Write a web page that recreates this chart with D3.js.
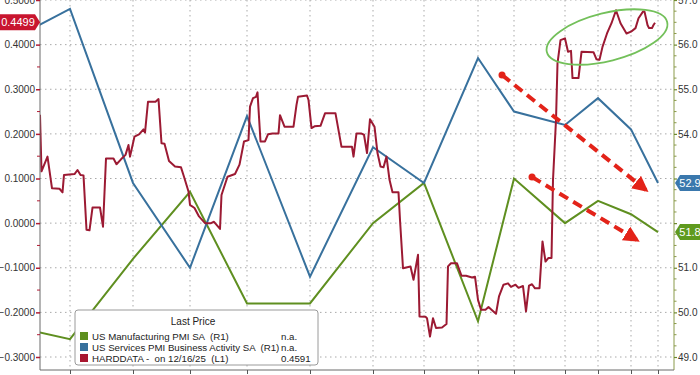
<!DOCTYPE html>
<html><head><meta charset="utf-8">
<script src="https://cdn.jsdelivr.net/npm/d3@7"></script>
<style>
html,body{margin:0;padding:0;background:#fff;overflow:hidden;}
svg{display:block;font-family:"Liberation Sans",Arial,sans-serif;}
</style></head>
<body>
<svg id="c" width="700" height="375"></svg>
<script>
// ---- data ----
const pmiMonths = ["Nov 2024","Dec 2024","Jan 2025","Feb 2025","Mar 2025","Apr 2025","May 2025","Jun 2025","Jul 2025","Aug 2025","Sep 2025","Oct 2025","Nov 2025","Dec 2025"];
// observation number (HARDDATA trading-day count) at which each month's PMI is plotted
const pmiObs = [-10, 10, 31, 50, 69, 90, 111, 128, 146, 158, 175, 186, 197, 206];
const mfgPMI = [49.7, 49.4, 51.2, 52.7, 50.2, 50.2, 52.0, 52.9, 49.8, 53.0, 52.0, 52.5, 52.2, 51.8];
const svcPMI = [56.1, 56.8, 52.9, 51.0, 54.4, 50.8, 53.7, 52.9, 55.7, 54.5, 54.2, 54.8, 54.1, 52.9];
const axisMonths = ["Jan","Feb","Mar","Apr","May","Jun","Jul","Aug","Sep","Oct","Nov","Dec"];
const hardObs = [0,0.5,2.5,4,6.5,7.5,8,11.5,12.5,13.5,14.5,15.5,16.5,17.5,20,21,22,24.5,25.5,27,28.5,29.5,30,31.5,33,34.5,35,36,38.5,39.5,40.5,41.5,43,45,47,48,49.5,50,51.5,53,55,57,58,60,60.5,62.5,65,66.5,68,69.5,70,71,72,72.5,73.5,75,76,77.5,79.5,80,81.5,84.5,85.5,86,89,89.5,90.5,91.5,93.5,95,98.5,100.5,104,104.5,105.5,107,108,109,110,111.5,112.5,113.5,114.5,115.5,116.5,117.5,119.5,120,121,123.5,124.5,126,126.5,128.5,129,130,131,132,134,135.5,136,137,139,140.5,142,144,145,146,147,148.5,149.5,150.5,152,153,154.5,156,157,158.5,159.5,161,162,163,164,165,166.5,167.5,168.5,169.5,170.5,171,172,172.5,173.5,175,176,177,177.5,179.5,180.5,184.5,185.5,186.5,187.5,189,190.5,192,193.5,195.5,197,198.5,199.5,201,201.5,202.5,203,204,204.5,205];
const hardVals = [0.243,0.116,0.149,0.078,0.077,0.069,0.108,0.110,0.119,0.108,0.107,-0.015,-0.016,0.035,0.035,-0.008,0.145,0.145,0.132,0.143,0.153,0.175,0.149,0.194,0.199,0.210,0.203,0.272,0.272,0.278,0.179,0.178,0.139,0.127,0.125,0.104,0.071,0.041,0.034,0.015,0.000,0.000,0.003,-0.013,0.063,0.104,0.110,0.131,0.183,0.186,0.261,0.280,0.283,0.293,0.183,0.183,0.199,0.201,0.201,0.242,0.216,0.216,0.265,0.283,0.286,0.276,0.213,0.217,0.218,0.246,0.246,0.171,0.171,0.149,0.201,0.201,0.198,0.157,0.233,0.216,0.157,0.127,0.125,0.149,0.097,0.069,0.069,0.007,-0.101,-0.097,-0.127,-0.071,-0.209,-0.210,-0.213,-0.254,-0.213,-0.235,-0.234,-0.226,-0.097,-0.090,-0.090,-0.118,-0.118,-0.122,-0.120,-0.172,-0.194,-0.194,-0.188,-0.194,-0.203,-0.164,-0.138,-0.135,-0.143,-0.138,-0.145,-0.141,-0.198,-0.140,-0.137,-0.146,-0.146,-0.041,-0.086,-0.078,-0.078,0.097,0.231,0.358,0.410,0.414,0.384,0.386,0.325,0.325,0.384,0.383,0.367,0.366,0.395,0.425,0.448,0.477,0.448,0.425,0.429,0.437,0.459,0.474,0.474,0.444,0.437,0.437,0.444,0.449];
const leftTicks = [-0.3,-0.2,-0.1,0,0.1,0.2,0.3,0.4,0.5];
const rightTicks = [49,50,51,52,53,54,55,56,57];
const hardLast = 0.4499;
const legendRows = [
  {name:"US Manufacturing PMI SA  (R1)", val:"n.a.", color:"#5d8f1e"},
  {name:"US Services PMI Business Activity SA  (R1)", val:"n.a.", color:"#36709c"},
  {name:"HARDDATA -  on 12/16/25  (L1)", val:"0.4591", color:"#a8162f"}
];

// ---- layout ----
const L = 40, R = 674, T = 0, B = 370;
const svg = d3.select("#c");
const x = d3.scaleLinear().domain([0, 211.333]).range([L, R]);
const yL = d3.scaleLinear().domain([-0.3, 0.5]).range([357, 0]);
const yR = d3.scaleLinear().domain([49, 57]).range([357, 0]);

const C_RED = "#9c1a33", C_BLUE = "#38719d", C_GREEN = "#5f8f20";

const defs = svg.append("defs");
defs.append("clipPath").attr("id","clip")
  .append("rect").attr("x",L).attr("y",T).attr("width",R-L).attr("height",B-T);
defs.append("marker").attr("id","ah").attr("viewBox","0 0 10 10").attr("refX",8).attr("refY",5)
  .attr("markerWidth",4).attr("markerHeight",4).attr("orient","auto")
  .append("path").attr("d","M0,0 L10,5 L0,10 Z").attr("fill","#e32319");

// grid
const grid = svg.append("g");
grid.selectAll("line.h").data(leftTicks).join("line")
  .attr("x1",L).attr("x2",R).attr("y1",d=>yL(d)).attr("y2",d=>yL(d))
  .attr("stroke","#a9a9a9").attr("stroke-width",1).attr("stroke-dasharray","1.5,3.5");
grid.selectAll("line.v").data(pmiObs.filter(d=>d>=0)).join("line")
  .attr("x1",d=>x(d)).attr("x2",d=>x(d)).attr("y1",T).attr("y2",B)
  .attr("stroke","#a9a9a9").attr("stroke-width",1).attr("stroke-dasharray","1.5,3.5");

// series
const plot = svg.append("g").attr("clip-path","url(#clip)");
const pmiIdx = d3.range(pmiObs.length);
plot.append("path").datum(pmiIdx)
  .attr("d", d3.line().x(i=>x(pmiObs[i])).y(i=>yR(mfgPMI[i])))
  .attr("fill","none").attr("stroke",C_GREEN).attr("stroke-width",2);
plot.append("path").datum(pmiIdx)
  .attr("d", d3.line().x(i=>x(pmiObs[i])).y(i=>yR(svcPMI[i])))
  .attr("fill","none").attr("stroke",C_BLUE).attr("stroke-width",2);
plot.append("path").datum(d3.range(hardObs.length))
  .attr("d", d3.line().x(i=>x(hardObs[i])).y(i=>yL(hardVals[i])))
  .attr("fill","none").attr("stroke",C_RED).attr("stroke-width",2).attr("stroke-linejoin","round");

// axes
const axL = svg.append("g").attr("transform",`translate(${L},0)`)
  .call(d3.axisLeft(yL).tickValues(leftTicks).tickFormat(d3.format(".4f")).tickSize(4).tickPadding(1));
axL.select(".domain").attr("stroke","#6b6b6b").attr("d",`M0,${T}V${B}`);
axL.selectAll(".tick line").attr("stroke","#b01d35").attr("stroke-width",1.5);
axL.selectAll("text").attr("fill","#333").style("font-size","10px");
// minor left ticks
svg.append("g").selectAll("line").data(d3.range(-0.25,0.5,0.1)).join("line")
  .attr("x1",L-3).attr("x2",L).attr("y1",d=>yL(d)).attr("y2",d=>yL(d)).attr("stroke","#b01d35");

// right axis: labels hidden behind the last-value tags are not drawn
const tagVals = [svcPMI[svcPMI.length-1], mfgPMI[mfgPMI.length-1]];
const axR = svg.append("g").attr("transform",`translate(${R},0)`)
  .call(d3.axisRight(yR).tickValues(rightTicks)
    .tickFormat(d=>tagVals.some(t=>Math.abs(yR(t)-yR(d))<9)?"":d3.format(".1f")(d))
    .tickSize(3).tickPadding(1));
axR.select(".domain").attr("stroke","#8a9a4a").attr("d",`M0,${T}V${B}`);
axR.selectAll(".tick line").attr("stroke","#6e8a2e").attr("stroke-width",1.2);
axR.selectAll("text").attr("fill","#333").style("font-size","10px");
svg.append("g").selectAll("line").data(d3.range(49.25,57,0.25).filter(v=>Math.abs(v-Math.round(v))>0.01)).join("line")
  .attr("x1",R).attr("x2",R+2.5).attr("y1",d=>yR(d)).attr("y2",d=>yR(d)).attr("stroke","#8a9a4a");

const axB = svg.append("g").attr("transform",`translate(0,${B})`)
  .call(d3.axisBottom(x).tickValues(pmiObs.filter(d=>d>=0)).tickFormat("").tickSize(4));
axB.select(".domain").attr("stroke","#6b6b6b").attr("d",`M${L},0H${R}`);
axB.selectAll(".tick line").attr("stroke","#555");
// month labels (mostly below the page bottom, as in the reference)
const mids = d3.range(1, pmiObs.length-1).map(i=>(pmiObs[i]+pmiObs[i+1])/2);
svg.append("g").selectAll("text").data(axisMonths).join("text")
  .attr("x",(d,i)=>x(mids[i])).attr("y",B+13).attr("text-anchor","middle")
  .attr("fill","#333").style("font-size","11px").text(d=>d);

// legend
const lg = svg.append("g").attr("transform","translate(75,310)");
lg.append("rect").attr("width",243).attr("height",55).attr("rx",3)
  .attr("fill","#fff").attr("stroke","#9a9a9a");
lg.append("text").attr("x",118).attr("y",15).attr("text-anchor","middle")
  .attr("fill","#222").style("font-size","10px").text("Last Price");
const rows = lg.selectAll("g.r").data(legendRows).join("g").attr("transform",(d,i)=>`translate(0,${22+i*11})`);
rows.append("rect").attr("x",5).attr("y",0).attr("width",8).attr("height",8).attr("fill",d=>d.color);
rows.append("text").attr("x",17).attr("y",8).attr("fill","#222").style("font-size","9.7px")
  .style("white-space","pre").attr("xml:space","preserve").text(d=>d.name);
rows.append("text").attr("x",206).attr("y",8).attr("fill","#222").style("font-size","9.7px").text(d=>d.val);

// annotations
svg.append("ellipse").attr("cx",607).attr("cy",37).attr("rx",62).attr("ry",24)
  .attr("transform","rotate(-14,607,37)")
  .attr("fill","none").attr("stroke","#73c05a").attr("stroke-width",1.8);
const arrows = [[502,75,646,190],[532,177,637,240]];
arrows.forEach(a=>{
  svg.append("circle").attr("cx",a[0]).attr("cy",a[1]).attr("r",3.5).attr("fill","#e32319");
  svg.append("line").attr("x1",a[0]).attr("y1",a[1]).attr("x2",a[2]).attr("y2",a[3])
    .attr("stroke","#e32319").attr("stroke-width",4).attr("stroke-dasharray","10,6")
    .attr("marker-end","url(#ah)");
});

// value tags
function tag(xp, yp, w, color, txt, side){
  const h = 16, g = svg.append("g");
  let d;
  if(side==="left"){ // pointer on right
    d = `M${xp-w},${yp-h/2}H${xp-5}L${xp},${yp}L${xp-5},${yp+h/2}H${xp-w}Z`;
  } else {
    d = `M${xp},${yp}L${xp+5},${yp-h/2}H${xp+w}V${yp+h/2}H${xp+5}Z`;
  }
  g.append("path").attr("d",d).attr("fill",color);
  g.append("text").attr("x", side==="left" ? xp-w/2-2 : xp+w/2+2).attr("y",yp+4)
    .attr("text-anchor","middle").attr("fill","#fff").style("font-size","11px").text(txt);
}
tag(L, yL(hardLast), 40, "#c8152f", d3.format(".4f")(hardLast), "left");
tag(R+1, yR(tagVals[0]), 26, "#3a78ad", d3.format(".1f")(tagVals[0]), "right");
tag(R+1, yR(tagVals[1]), 26, "#5f9a1e", d3.format(".1f")(tagVals[1]), "right");
</script>
</body></html>
